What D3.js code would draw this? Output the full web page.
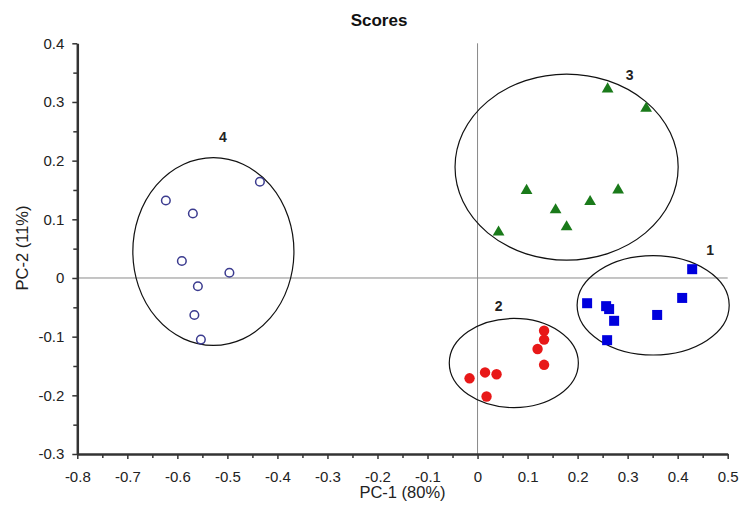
<!DOCTYPE html>
<html>
<head>
<meta charset="utf-8">
<script src="https://cdn.jsdelivr.net/npm/d3@7"></script>
<style>
  html, body { margin: 0; padding: 0; background: #fff; }
  svg { display: block; font-family: Arial, "Liberation Sans", sans-serif; }
</style>
</head>
<body>
<svg id="chart" width="742" height="506"></svg>
<script>
// ---- Data ----
const xTicks = [-0.8, -0.7, -0.6, -0.5, -0.4, -0.3, -0.2, -0.1, 0, 0.1, 0.2, 0.3, 0.4, 0.5];
const yTicks = [-0.3, -0.2, -0.1, 0, 0.1, 0.2, 0.3, 0.4];
const xTickLabels = ["-0.8","-0.7","-0.6","-0.5","-0.4","-0.3","-0.2","-0.1","0","0.1","0.2","0.3","0.4","0.5"];
const yTickLabels = ["-0.3","-0.2","-0.1","0","0.1","0.2","0.3","0.4"];

const group1PC1 = [0.429, 0.409, 0.219, 0.257, 0.263, 0.273, 0.359, 0.259];
const group1PC2 = [0.015, -0.034, -0.043, -0.048, -0.053, -0.073, -0.063, -0.106];

const group2PC1 = [0.133, 0.133, 0.120, 0.133, 0.015, 0.038, -0.016, 0.018];
const group2PC2 = [-0.090, -0.105, -0.121, -0.148, -0.161, -0.164, -0.171, -0.202];

const group3PC1 = [0.260, 0.337, 0.098, 0.281, 0.225, 0.156, 0.178, 0.042];
const group3PC2 = [0.322, 0.289, 0.149, 0.150, 0.130, 0.116, 0.087, 0.078];

const group4PC1 = [-0.623, -0.569, -0.435, -0.591, -0.496, -0.559, -0.566, -0.553];
const group4PC2 = [0.132, 0.110, 0.164, 0.029, 0.009, -0.014, -0.063, -0.105];

// cluster ellipses: center and radii in score units
const clusterNames = ["1", "2", "3", "4"];
const ellipseCX = [0.351, 0.0725, 0.178, -0.528];
const ellipseCY = [-0.0466, -0.145, 0.189, 0.045];
const ellipseRX = [0.152, 0.129, 0.223, 0.161];
const ellipseRY = [0.0847, 0.076, 0.1585, 0.160];
const labelX = [0.465, 0.042, 0.304, -0.509];
const labelY = [0.048, -0.048, 0.346, 0.241];

// ---- Layout ----
const W = 742, H = 506;
const margin = { left: 77.3, right: 14.3, top: 43.3, bottom: 52 };
const svg = d3.select("#chart");

const x = d3.scaleLinear().domain([-0.8, 0.5]).range([margin.left, W - margin.right]);
const y = d3.scaleLinear().domain([-0.3, 0.4]).range([H - margin.bottom, margin.top]);

// zero lines
svg.append("line")
  .attr("x1", x(-0.8)).attr("x2", x(0.5)).attr("y1", y(0)).attr("y2", y(0))
  .attr("stroke", "#8a8a8a").attr("stroke-width", 1);
svg.append("line")
  .attr("x1", x(0)).attr("x2", x(0)).attr("y1", y(0.4)).attr("y2", y(-0.3))
  .attr("stroke", "#8a8a8a").attr("stroke-width", 1);

// minor ticks
const xMinor = xTicks.slice(0, -1).map(v => +(v + 0.05).toFixed(2));
const yMinor = yTicks.slice(0, -1).map(v => +(v + 0.05).toFixed(2));

const axisColor = "#333";

const gxMinor = svg.append("g").attr("transform", `translate(0,${y(-0.3)})`)
  .call(d3.axisBottom(x).tickValues(xMinor).tickSize(4).tickFormat(""));
const gyMinor = svg.append("g").attr("transform", `translate(${x(-0.8)},0)`)
  .call(d3.axisLeft(y).tickValues(yMinor).tickSize(4).tickFormat(""));
[gxMinor, gyMinor].forEach(g => {
  g.select(".domain").remove();
  g.selectAll(".tick line").attr("stroke", axisColor).attr("stroke-width", 1.5);
});

const gx = svg.append("g").attr("transform", `translate(0,${y(-0.3)})`)
  .call(d3.axisBottom(x).tickValues(xTicks).tickSize(5).tickSizeOuter(0).tickPadding(12)
    .tickFormat((d, i) => xTickLabels[i]));
const gy = svg.append("g").attr("transform", `translate(${x(-0.8)},0)`)
  .call(d3.axisLeft(y).tickValues(yTicks).tickSize(5).tickSizeOuter(0).tickPadding(8)
    .tickFormat((d, i) => yTickLabels[i]));
[gx, gy].forEach(g => {
  g.select(".domain").attr("stroke", axisColor).attr("stroke-width", 2.5);
  g.selectAll(".tick line").attr("stroke", axisColor).attr("stroke-width", 1.5);
  g.selectAll(".tick text").attr("fill", "#222").style("font-size", "15px")
    .style("font-family", "Arial, 'Liberation Sans', sans-serif");
});

// ellipses
const ell = clusterNames.map((n, i) => ({ n, cx: ellipseCX[i], cy: ellipseCY[i], rx: ellipseRX[i], ry: ellipseRY[i], lx: labelX[i], ly: labelY[i] }));
svg.append("g").selectAll("ellipse").data(ell).join("ellipse")
  .attr("cx", d => x(d.cx)).attr("cy", d => y(d.cy))
  .attr("rx", d => x(d.cx + d.rx) - x(d.cx))
  .attr("ry", d => y(d.cy) - y(d.cy + d.ry))
  .attr("fill", "none").attr("stroke", "#111").attr("stroke-width", 1.2);

svg.append("g").selectAll("text").data(ell).join("text")
  .attr("x", d => x(d.lx)).attr("y", d => y(d.ly))
  .attr("dy", "0.36em").attr("text-anchor", "middle")
  .style("font-size", "14px").style("font-weight", "bold").attr("fill", "#222")
  .text(d => d.n);

// points
const zip = (a, b) => a.map((v, i) => ({ x: v, y: b[i] }));

// group 1: blue squares
svg.append("g").selectAll("rect").data(zip(group1PC1, group1PC2)).join("rect")
  .attr("x", d => x(d.x) - 5).attr("y", d => y(d.y) - 5)
  .attr("width", 10).attr("height", 10).attr("fill", "#0000dd");

// group 2: red filled circles
svg.append("g").selectAll("circle").data(zip(group2PC1, group2PC2)).join("circle")
  .attr("cx", d => x(d.x)).attr("cy", d => y(d.y)).attr("r", 5.2).attr("fill", "#e81818");

// group 3: green triangles
const tri = d3.symbol().type(d3.symbolTriangle).size(60);
svg.append("g").selectAll("path").data(zip(group3PC1, group3PC2)).join("path")
  .attr("transform", d => `translate(${x(d.x)},${y(d.y)})`)
  .attr("d", tri).attr("fill", "#1a7a1a");

// group 4: open navy circles
svg.append("g").selectAll("circle").data(zip(group4PC1, group4PC2)).join("circle")
  .attr("cx", d => x(d.x)).attr("cy", d => y(d.y)).attr("r", 4.3)
  .attr("fill", "none").attr("stroke", "#3b3b8f").attr("stroke-width", 1.5);

// title and axis labels
svg.append("text").attr("x", 379).attr("y", 26).attr("text-anchor", "middle")
  .style("font-size", "17px").style("font-weight", "bold").attr("fill", "#111").text("Scores");
svg.append("text").attr("x", 402.5).attr("y", 498).attr("text-anchor", "middle")
  .style("font-size", "16.5px").attr("fill", "#222").text("PC-1 (80%)");
svg.append("text").attr("transform", "translate(28,248) rotate(-90)").attr("text-anchor", "middle")
  .style("font-size", "16.5px").attr("fill", "#222").text("PC-2 (11%)");
</script>
</body>
</html>
